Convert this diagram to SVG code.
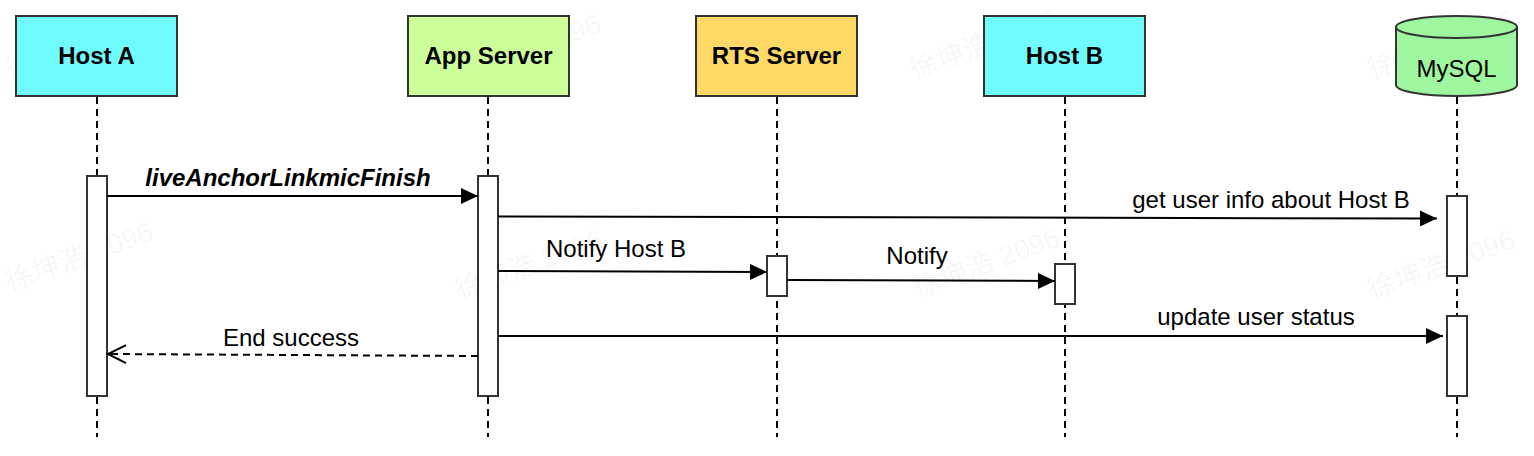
<svg xmlns="http://www.w3.org/2000/svg" width="1534" height="456" viewBox="0 0 1534 456">
<style>
.box{stroke:#333;stroke-width:2}
.hd{font-family:"Liberation Sans",Arial,sans-serif;font-size:24px;font-weight:bold;text-anchor:middle;fill:#000}
.lbl{font-family:"Liberation Sans",Arial,sans-serif;font-size:24px;text-anchor:middle;fill:#000}
.life{stroke:#000;stroke-width:2;stroke-dasharray:7 5;fill:none}
.act{fill:#fff;stroke:#333;stroke-width:2}
.msg{stroke:#000;stroke-width:2;fill:none}
.wm{font-family:"Liberation Sans","Noto Sans CJK SC",sans-serif;font-size:28px;fill:#000;fill-opacity:0.05}
</style>
<defs>
<marker id="block" markerUnits="userSpaceOnUse" markerWidth="18" markerHeight="16" refX="17" refY="8" orient="auto">
<path d="M0,0 L17,8 L0,16 z" fill="#000"/>
</marker>
<marker id="open" markerUnits="userSpaceOnUse" markerWidth="22" markerHeight="22" refX="19" refY="10" orient="auto">
<path d="M1,1 L19,10 L1,19" fill="none" stroke="#000" stroke-width="2"/>
</marker>
</defs>
<rect width="1534" height="456" fill="#fff"/>
<g id="watermarks">
<text class="wm" transform="translate(10,80) rotate(-20)">徐坤浩 2096</text>
<text class="wm" transform="translate(458,84) rotate(-20)">徐坤浩 2096</text>
<text class="wm" transform="translate(914,80) rotate(-20)">徐坤浩 2096</text>
<text class="wm" transform="translate(1372,80) rotate(-20)">徐坤浩 2096</text>
<text class="wm" transform="translate(10,292) rotate(-20)">徐坤浩 2096</text>
<text class="wm" transform="translate(460,300) rotate(-20)">徐坤浩 2096</text>
<text class="wm" transform="translate(917,298) rotate(-20)">徐坤浩 2096</text>
<text class="wm" transform="translate(1372,300) rotate(-20)">徐坤浩 2096</text>
</g>
<g id="lifelines">
<line class="life" x1="97" y1="97" x2="97" y2="437"/>
<line class="life" x1="488" y1="97" x2="488" y2="437"/>
<line class="life" x1="777" y1="97" x2="777" y2="437"/>
<line class="life" x1="1065" y1="97" x2="1065" y2="437"/>
<line class="life" x1="1457" y1="97" x2="1457" y2="437"/>
</g>
<g id="host-a">
<rect class="box" x="16" y="16" width="161" height="80" fill="#70FCFF"/>
<text class="hd" x="96.5" y="64">Host A</text>
<rect class="act" x="87" y="176" width="20" height="220"/>
</g>
<g id="app-server">
<rect class="box" x="408" y="16" width="161" height="80" fill="#CCFF99"/>
<text class="hd" x="488.5" y="64">App Server</text>
<rect class="act" x="478" y="176" width="20" height="220"/>
</g>
<g id="rts-server">
<rect class="box" x="696" y="16" width="161" height="80" fill="#FFD966"/>
<text class="hd" x="776.5" y="64">RTS Server</text>
<rect class="act" x="767" y="256" width="20" height="40"/>
</g>
<g id="host-b">
<rect class="box" x="984" y="16" width="161" height="80" fill="#70FCFF"/>
<text class="hd" x="1064.5" y="64">Host B</text>
<rect class="act" x="1055" y="264" width="20" height="40"/>
</g>
<g id="mysql">
<path class="box" d="M1396,27 A60.5,11 0 0 1 1517,27 V85 A60.5,11 0 0 1 1396,85 Z" fill="#9EF79E"/>
<path class="box" d="M1396,27 A60.5,11 0 0 0 1517,27" fill="none"/>
<text class="lbl" x="1456.5" y="77">MySQL</text>
<rect class="act" x="1447" y="196" width="20" height="80"/>
<rect class="act" x="1447" y="316" width="20" height="80"/>
</g>
<g id="connectors">
<line class="msg" x1="107" y1="196" x2="478" y2="196" marker-end="url(#block)"/>
<text class="lbl" x="288" y="186" font-weight="bold" font-style="italic">liveAnchorLinkmicFinish</text>
<line class="msg" x1="498" y1="216.5" x2="1437" y2="218.5" marker-end="url(#block)"/>
<text class="lbl" x="1271" y="208">get user info about Host B</text>
<line class="msg" x1="498" y1="271" x2="767" y2="272" marker-end="url(#block)"/>
<text class="lbl" x="616" y="257">Notify Host B</text>
<line class="msg" x1="787" y1="280" x2="1055" y2="281" marker-end="url(#block)"/>
<text class="lbl" x="917" y="264">Notify</text>
<line class="msg" x1="498" y1="336" x2="1443" y2="336" marker-end="url(#block)"/>
<text class="lbl" x="1256" y="325">update user status</text>
<line class="msg" x1="478" y1="356" x2="108" y2="354" stroke-dasharray="7 5" marker-end="url(#open)"/>
<text class="lbl" x="291" y="346">End success</text>
</g>
</svg>
